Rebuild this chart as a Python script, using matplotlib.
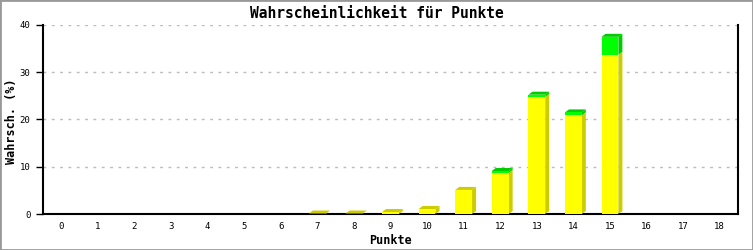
import matplotlib
matplotlib.use("Agg")
import matplotlib.pyplot as plt
from matplotlib.patches import Polygon, Rectangle

# data
punkte = list(range(19))
wahrsch_gelb = [0, 0, 0, 0, 0, 0, 0, 0.1, 0.1, 0.42, 1.06, 5.1, 8.7, 24.8, 20.9, 33.7, 0, 0, 0]
wahrsch_gruen = [0, 0, 0, 0, 0, 0, 0, 0, 0, 0, 0, 0, 0.4, 0.45, 0.6, 3.8, 0, 0, 0]

YELLOW = "#ffff00"
YELLOW_DARK = "#cccc00"
GREEN = "#00ff00"
GREEN_DARK = "#00cc00"

font = "DejaVu Sans Mono"

fig = plt.figure(figsize=(7.53, 2.5), dpi=100)
fig.patches.append(Rectangle((0, 0), 1, 1, transform=fig.transFigure,
                             fill=False, edgecolor="#999999", linewidth=2))
ax = fig.add_axes([43 / 753, 36 / 250, 695 / 753, 189 / 250])

ax.set_xlim(-0.5, 18.5)
ax.set_ylim(0, 40)

bw = 0.46
# depth of the 3D look in data units (about 4 px right, 3 px up)
dx = 4 * 19 / 695
dy = 3 * 40 / 189


def draw_block(x, y0, y1, front, dark, top):
    ax.add_patch(Polygon([(x + bw / 2, y0), (x + bw / 2 + dx, y0 + dy),
                          (x + bw / 2 + dx, y1 + dy), (x + bw / 2, y1)],
                         closed=True, facecolor=dark, edgecolor="none", zorder=3))
    ax.bar(x, y1 - y0, bottom=y0, width=bw, color=front, linewidth=0, zorder=4)
    if top:
        ax.add_patch(Polygon([(x - bw / 2, y1), (x - bw / 2 + dx, y1 + dy),
                              (x + bw / 2 + dx, y1 + dy), (x + bw / 2, y1)],
                             closed=True, facecolor=dark, edgecolor="none", zorder=3))


for x, g, gr in zip(punkte, wahrsch_gelb, wahrsch_gruen):
    if g <= 0 and gr <= 0:
        continue
    draw_block(x, 0, g, YELLOW, YELLOW_DARK, gr <= 0)
    if gr > 0:
        draw_block(x, g, g + gr, GREEN, GREEN_DARK, True)

ax.set_yticks([0, 10, 20, 30, 40])
ax.set_xticks(punkte)
ax.set_xticklabels([str(p) for p in punkte], fontsize=6.5, family=font)
ax.set_yticklabels(["0", "10", "20", "30", "40"], fontsize=6.5, family=font)
ax.tick_params(axis="x", length=0, pad=6)
ax.tick_params(axis="y", length=5, width=1, pad=4)

ax.yaxis.grid(True, linestyle=(0, (2, 4)), color="#bbbbbb", linewidth=1)
ax.set_axisbelow(True)
for s in ["left", "bottom", "right"]:
    ax.spines[s].set_linewidth(1.5)
    ax.spines[s].set_color("black")
ax.spines["top"].set_visible(False)

fig.text(0.5, 1 - 13 / 250, "Wahrscheinlichkeit für Punkte", family=font,
         fontweight="bold", fontsize=10.5, ha="center", va="center")
ax.set_xlabel("Punkte", family=font, fontweight="bold", fontsize=8.5, labelpad=2)
ax.set_ylabel("Wahrsch. (%)", family=font, fontweight="bold", fontsize=8.5,
              va="center")
ax.yaxis.set_label_coords((12 - 43) / 695, 0.49)

fig.savefig("out.png", dpi=100)
